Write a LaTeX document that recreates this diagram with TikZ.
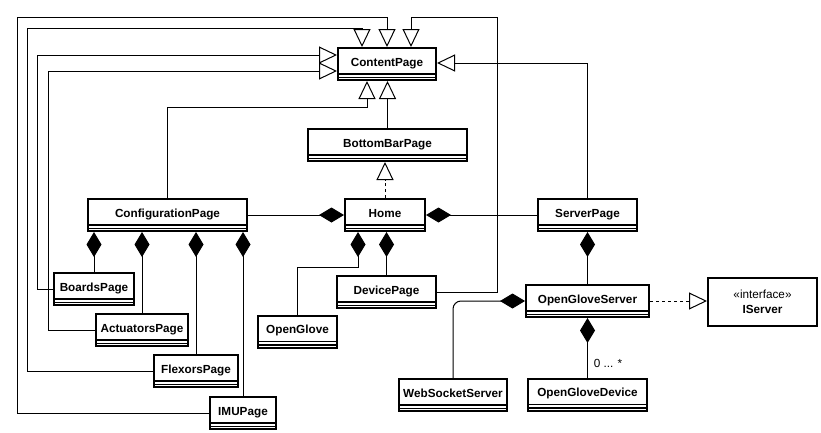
\documentclass[tikz,border=0pt]{standalone}
\usepackage{fontspec}
\setmainfont{Liberation Sans}
\usetikzlibrary{arrows.meta}

\begin{document}
\begin{tikzpicture}[x = 0.75pt, y = -0.75pt, line width = 0.75pt,
	umlbox/.style = {draw, line width = 1.5pt, inner sep = 0pt},
	umlclass/.style = {umlbox, font = \bfseries\fontsize{8.8}{10}\selectfont, text height = 13.5pt, text depth = 10.5pt,
		path picture = {
			\draw [line width = 0.9pt] ([yshift = 4.5pt] path picture bounding box.south west) -- ([yshift = 4.5pt] path picture bounding box.south east);
			\draw [line width = 0.9pt] ([yshift = 1.9pt] path picture bounding box.south west) -- ([yshift = 1.9pt] path picture bounding box.south east);
		}},
	inherit/.style = {-{Triangle[open, length = 13.5pt, width = 12.75pt]}},
	realize/.style = {inherit, dashed, dash pattern = on 2.5pt off 2pt},
	compose/.style = {{Diamond[length = 18.75pt, width = 11.25pt]}-}]

	\useasboundingbox (0, 0) rectangle (821, 432);

	% Classes

	\node [umlclass, minimum width = 73.5pt] (content) at (387, 64) {ContentPage};
	\node [umlclass, minimum width = 119.25pt] (bottombar) at (387.5, 145) {BottomBarPage};
	\node [umlclass, minimum width = 119.25pt] (config) at (167.5, 215) {ConfigurationPage};
	\node [umlclass, minimum width = 60pt] (home) at (385, 215) {Home};
	\node [umlclass, minimum width = 74.25pt] (server) at (587.5, 215) {ServerPage};

	\node [umlclass, minimum width = 60pt] (boards) at (94, 289) {BoardsPage};
	\node [umlclass, minimum width = 69pt] (actuators) at (142, 330) {ActuatorsPage};
	\node [umlclass, minimum width = 63pt] (flexors) at (196, 371) {FlexorsPage};
	\node [umlclass, minimum width = 49.5pt] (imu) at (243, 413) {IMUPage};

	\node [umlclass, minimum width = 59.25pt] (openglove) at (297.5, 331.5) {OpenGlove};
	\node [umlclass, minimum width = 74.25pt] (device) at (386.5, 292) {DevicePage};

	\node [umlclass, minimum width = 92.25pt] (ogserver) at (587.5, 301) {OpenGloveServer};
	\node [umlclass, minimum width = 81pt] (websocket) at (453, 395) {WebSocketServer};
	\node [umlclass, minimum width = 89.25pt] (ogdevice) at (587.5, 394.5) {OpenGloveDevice};

	\node [umlbox, minimum width = 81.75pt, minimum height = 36pt, align = center, font = \fontsize{8.8}{11}\selectfont] (iserver) at (762.5, 302) {«interface»\\\textbf{IServer}};

	% Inheritance

	\draw [inherit] (boards.west) -| (37, 55) -- (content.west |- 0, 55);
	\draw [inherit] (actuators.west) -| (48, 71) -- (content.west |- 0, 71);
	\draw [inherit] (flexors.west) -| (27, 28) -| (content.north -| 362, 0);
	\draw [inherit] (imu.west) -| (17, 17) -| (content.north -| 387, 0);
	\draw [inherit] (device.east) -| (497, 17) -| (content.north -| 411, 0);
	\draw [inherit] (server.north) |- (content.east |- 0, 63);
	\draw [inherit] (config.north) |- (367, 107) -- (content.south -| 367, 0);
	\draw [inherit] (bottombar.north) -- (content.south -| bottombar.north);

	\draw [realize] (home.north) -- (bottombar.south -| home.north);
	\draw [realize] (ogserver.east) -- (iserver.west |- ogserver.east);

	% Composition

	\draw [compose] (home.west) -- (config.east);
	\draw [compose] (home.east) -- (server.west);

	\draw [compose] (config.south -| boards.north) -- (boards.north);
	\draw [compose] (config.south -| actuators.north) -- (actuators.north);
	\draw [compose] (config.south -| flexors.north) -- (flexors.north);
	\draw [compose] (config.south -| imu.north) -- (imu.north);

	\draw [compose] (home.south -| 358, 0) -- ++(0, 35) -| (openglove.north);
	\draw [compose] (home.south -| device.north) -- (device.north);

	\draw [compose] (server.south) -- (ogserver.north);
	\draw [compose, rounded corners = 6pt] (ogserver.west) -| (websocket.north);
	\draw [compose] (ogserver.south) -- (ogdevice.north)
		node [pos = 0.76, right, xshift = 1pt, font = \fontsize{8.8}{10}\selectfont] {0 ... *};

\end{tikzpicture}
\end{document}
